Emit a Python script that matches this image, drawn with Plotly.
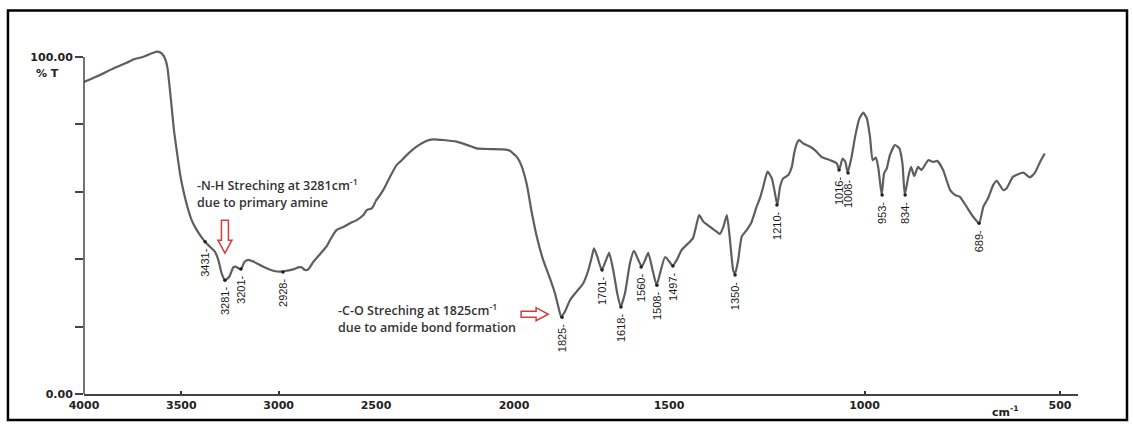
import numpy as np
import plotly.graph_objects as go
from plotly.subplots import make_subplots

# ---------------- data ----------------
wavenumber = [4000, 3918, 3850, 3781, 3747, 3695, 3644, 3624, 3601, 3584, 3572, 3562, 3550, 3538,
              3524, 3507, 3490, 3469, 3447, 3430, 3395, 3378, 3353, 3327, 3310, 3293, 3276, 3254,
              3233, 3222, 3194, 3176, 3156, 3130, 3096, 3062, 3028, 2993, 2959, 2925, 2899, 2882,
              2865, 2848, 2822, 2788, 2753, 2736, 2702, 2668, 2634, 2599, 2565, 2548, 2522, 2498,
              2474, 2449, 2425, 2413, 2389, 2353, 2316, 2292, 2256, 2208, 2159, 2135, 2087, 2039,
              2015, 1991, 1977, 1959, 1943, 1927, 1906, 1884, 1868, 1857, 1848, 1836, 1819, 1798,
              1777, 1760, 1749, 1742, 1731, 1717, 1703, 1693, 1680, 1667, 1656, 1642, 1626, 1613,
              1599, 1588, 1577, 1567, 1553, 1540, 1529, 1513, 1499, 1491, 1480, 1468, 1451, 1439,
              1431, 1423, 1412, 1395, 1378, 1370, 1361, 1352, 1344, 1336, 1331, 1323, 1314, 1301,
              1289, 1276, 1267, 1259, 1248, 1237, 1229, 1223, 1216, 1208, 1195, 1186, 1180, 1173,
              1167, 1157, 1139, 1127, 1110, 1088, 1071, 1065, 1056, 1049, 1043, 1033, 1024, 1013,
              1003, 994, 986, 979, 971, 965, 956, 950, 943, 935, 922, 911, 903, 897, 888, 881, 873,
              863, 854, 837, 824, 814, 799, 781, 769, 756, 739, 722, 707, 696, 684, 671, 662, 645,
              637, 620, 594, 577, 564, 551, 539]
transmittance = [92.6, 94.7, 96.6, 98.3, 99.3, 100.1, 101.3, 101.6, 101.1, 99.6, 97.1, 92.2, 85.3, 78.3,
                 72.4, 65.5, 60.5, 55.6, 51.6, 49.6, 46.4, 45.2, 43.7, 42.2, 39.8, 35.8, 33.8, 34.8,
                 37.6, 37.8, 37.0, 39.2, 39.8, 39.3, 38.3, 37.3, 36.6, 36.3, 36.6, 37.0, 37.6, 37.6,
                 36.8, 37.0, 39.2, 41.5, 43.9, 45.7, 48.7, 49.6, 50.7, 51.6, 53.1, 54.6, 55.1, 57.6,
                 60.5, 64.5, 68.0, 68.9, 70.9, 73.4, 75.2, 75.6, 75.4, 74.9, 73.6, 72.9, 72.7, 72.6,
                 72.2, 70.4, 68.0, 62.3, 54.0, 46.9, 39.8, 34.3, 29.9, 25.9, 22.9, 24.4, 27.9, 30.4,
                 32.8, 36.8, 40.7, 43.2, 40.7, 36.8, 39.8, 41.9, 36.8, 29.9, 25.9, 29.9, 38.8, 42.5,
                 39.8, 37.8, 39.8, 41.9, 36.8, 32.3, 35.8, 40.6, 39.3, 38.0, 39.8, 42.7, 44.7, 46.2,
                 49.6, 53.1, 51.1, 49.6, 48.2, 47.5, 49.6, 53.1, 45.7, 36.8, 35.6, 39.8, 46.7, 48.7,
                 51.0, 55.6, 58.3, 61.5, 66.0, 64.0, 59.6, 56.1, 61.5, 64.0, 65.0, 67.4, 71.4, 74.4,
                 75.4, 74.4, 73.4, 72.4, 70.4, 69.4, 68.5, 66.5, 69.9, 68.9, 65.7, 70.4, 76.4, 81.8,
                 83.5, 81.8, 76.4, 69.4, 70.2, 67.4, 59.1, 65.5, 67.0, 70.9, 73.9, 72.9, 68.5, 59.1, 64.5, 67.4, 64.7,
                 67.4, 66.5, 69.4, 68.9, 69.2, 66.5, 60.5, 59.1, 58.5, 55.6, 52.6, 50.7, 55.6, 58.1, 62.0, 63.3, 60.5,
                 61.0, 64.5, 65.7, 64.3, 65.7, 68.9, 71.4]

peak_labels = ["3431", "3281", "3201", "2928", "1825", "1701", "1618", "1560", "1508",
               "1497", "1350", "1210", "1016", "1008", "953", "834", "689"]
peak_wn = [3378, 3276, 3194, 2978, 1845, 1716, 1655, 1590, 1539,
           1490, 1331, 1224, 1065, 1042, 955, 896, 707]
peak_T = [45.2, 33.8, 37.1, 36.2, 22.8, 36.8, 25.8, 37.7, 32.3,
          38.0, 35.3, 56.1, 66.5, 65.6, 59.1, 59.1, 50.7]

x_ticks = [4000, 3500, 3000, 2500, 2000, 1500, 1000, 500]
y_label_ticks = [0, 100]
y_label_text = ["0.00", "100.00"]
y_minor_step = 20

# the instrument's x scale changes its spacing: linear pieces between these breaks
x_breaks = [4000, 2500, 2000, 1500, 454]
seg_widths = [292, 138, 155, 409]
Y_MAX = 103

# ---------------- figure ----------------
fig = make_subplots(rows=1, cols=4, shared_yaxes=True, horizontal_spacing=0,
                    column_widths=seg_widths)

line_col = "#5e5e5e"
axis_col = "#444444"
tick_font = dict(family="DejaVu Sans", size=11, color="#222222", weight="bold")

for i in range(4):
    fig.add_trace(go.Scatter(x=wavenumber, y=transmittance, mode="lines",
                             line=dict(color=line_col, width=2.2, shape="spline", smoothing=0.5),
                             showlegend=False, hoverinfo="skip"), row=1, col=i + 1)
    fig.add_trace(go.Scatter(x=peak_wn, y=peak_T, mode="markers",
                             marker=dict(size=3.5, color="#222222"),
                             showlegend=False, hoverinfo="skip"), row=1, col=i + 1)
    hi, lo = x_breaks[i], x_breaks[i + 1]
    if i == 0:
        tv = [t for t in x_ticks if lo <= t <= hi]
    else:
        tv = [t for t in x_ticks if lo <= t < hi]
    fig.update_xaxes(row=1, col=i + 1, range=[hi, lo], tickvals=tv, ticktext=[str(t) for t in tv],
                     showline=True, linecolor=axis_col, linewidth=1.5,
                     ticks="inside", ticklen=3, tickwidth=2, tickcolor="#333333",
                     tickfont=tick_font, showgrid=False, zeroline=False)
    if i == 0:
        fig.update_yaxes(row=1, col=1, range=[0, Y_MAX], tickvals=y_label_ticks, ticktext=y_label_text,
                         ticks="outside", ticklen=8, tickwidth=1.5, tickcolor=axis_col,
                         minor=dict(ticks="outside", ticklen=8, tickwidth=1.5, tickcolor=axis_col,
                                    tick0=0, dtick=y_minor_step, showgrid=False),
                         tickfont=tick_font, showline=False, showgrid=False, zeroline=False)
    else:
        fig.update_yaxes(row=1, col=i + 1, range=[0, Y_MAX], ticks="", showticklabels=False,
                         showline=False, showgrid=False, zeroline=False)


def seg_ref(w):
    for i in range(4):
        if x_breaks[i + 1] <= w <= x_breaks[i]:
            return "x" if i == 0 else "x%d" % (i + 1)
    return "x4"


annotations = []
for lab, w, t in zip(peak_labels, peak_wn, peak_T):
    annotations.append(dict(x=w, y=t, xref=seg_ref(w), yref="y", text=lab + "-",
                            textangle=-90, showarrow=False, xanchor="center", yanchor="top",
                            yshift=-5, font=dict(family="Liberation Sans", size=11, color="#1a1a1a")))

txt_font = dict(family="Open Sans", size=12.5, color="#333333", weight=600)
annotations.append(dict(x=3430, y=59.5, xref="x", yref="y", xanchor="left", yanchor="middle",
                        align="left", showarrow=False, font=txt_font,
                        text="-N-H Streching at 3281cm<sup>-1</sup><br>due to primary amine"))
annotations.append(dict(x=2705, y=22.4, xref="x", yref="y", xanchor="left", yanchor="middle",
                        align="left", showarrow=False, font=txt_font,
                        text="-C-O Streching at 1825cm<sup>-1</sup><br>due to amide bond formation"))
annotations.append(dict(x=0, y=100, xref="paper", yref="y", xanchor="right", yanchor="top",
                        xshift=-23, yshift=-8, showarrow=False, font=tick_font, text="% T"))
annotations.append(dict(x=640, y=0, xref="x4", yref="paper", xanchor="center", yanchor="top",
                        yshift=-8, showarrow=False, font=tick_font, text="cm<sup>-1</sup>"))

red = "#cf3f3f"
shapes = [
    # y axis line from 0 to 100 %T
    dict(type="line", xref="paper", yref="paper", x0=0, x1=0, y0=0, y1=100 / Y_MAX,
         line=dict(color=axis_col, width=1.5)),
    # outer frame
    dict(type="rect", xref="paper", yref="paper", x0=-0.0765, x1=1.0493, y0=-0.0749, y1=1.1052,
         line=dict(color="black", width=2.5), fillcolor="rgba(0,0,0,0)"),
    # hollow down arrow pointing at 3281 band
    dict(type="path", xref="x", yref="y", xsizemode="pixel", ysizemode="pixel",
         xanchor=3276, yanchor=41.8,
         path="M 0 0 L -7 13 L -3.5 13 L -3.5 33 L 3.5 33 L 3.5 13 L 7 13 Z",
         line=dict(color=red, width=1.5), fillcolor="white"),
    # hollow right arrow pointing at 1825 band
    dict(type="path", xref="x3", yref="y3", xsizemode="pixel", ysizemode="pixel",
         xanchor=1890, yanchor=23.7,
         path="M 0 0 L -12 6.5 L -12 3 L -27 3 L -27 -3 L -12 -3 L -12 -6.5 Z",
         line=dict(color=red, width=1.5), fillcolor="white"),
]

fig.update_layout(width=1133, height=425, margin=dict(l=84, r=55, t=47, b=31),
                  paper_bgcolor="white", plot_bgcolor="white",
                  annotations=annotations, shapes=shapes, showlegend=False)

fig.write_html("out.html")
